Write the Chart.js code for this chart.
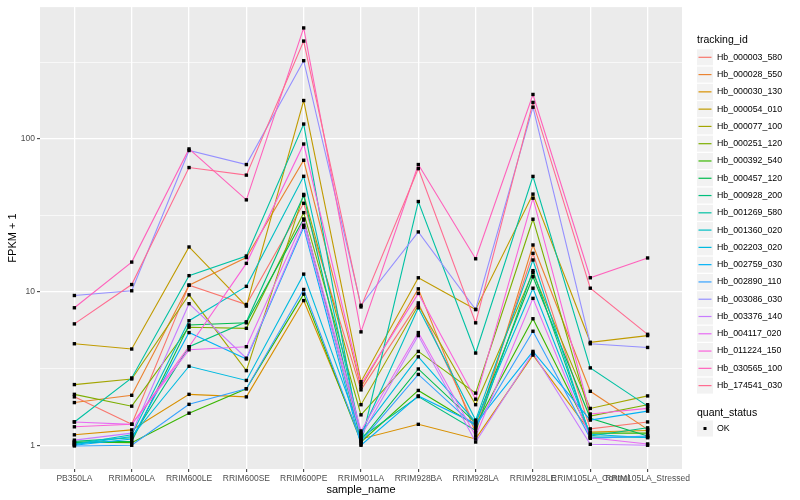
<!DOCTYPE html>
<html>
<head>
<meta charset="utf-8">
<script src="https://cdn.jsdelivr.net/npm/chart.js@4.4.1/dist/chart.umd.min.js"></script>
<style>
  body { margin: 0; background: #fff; }
  #wrap { width: 800px; height: 500px; }
</style>
</head>
<body>
<div id="wrap"><canvas id="chart" width="800" height="500"></canvas></div>
<script>
// Categories on the x axis
const samples = ['PB350LA', 'RRIM600LA', 'RRIM600LE', 'RRIM600SE', 'RRIM600PE', 'RRIM901LA',
    'RRIM928BA', 'RRIM928LA', 'RRIM928LE', 'RRIM105LA_Control', 'RRIM105LA_Stressed'];

// Y axis breaks (FPKM + 1, log scale)
const yMajor = [1, 10, 100];
const yMinor = [3.162, 31.62, 316.2];

// One array per gene
const hb_000003_580 = [2.07, 1.37, 11.1, 8.3, 38, 2.3, 8.5, 1.3, 17.9, 1.28, 1.42];
const hb_000028_550 = [1.90, 2.12, 11.1, 16.8, 72.5, 2.4, 10.5, 1.2, 20.3, 2.25, 1.27];
const hb_000030_130 = [1.17, 1.26, 2.15, 2.07, 8.8, 1.1, 1.37, 1.1, 3.88, 1.22, 1.25];
const hb_000054_010 = [4.6, 4.25, 19.7, 8.1, 178, 2.6, 12.4, 7.7, 43.6, 4.7, 5.2];
const hb_000077_100 = [2.49, 2.71, 9.6, 3.07, 43.4, 1.84, 8.2, 1.84, 13.4, 1.74, 2.1];
const hb_000251_120 = [2.15, 1.80, 5.9, 5.8, 33, 1.58, 4.1, 2.19, 29.9, 1.55, 1.84];
const hb_000392_540 = [1.05, 1.04, 1.62, 2.34, 9.7, 1.05, 2.28, 1.35, 6.7, 1.2, 1.2];
const hb_000457_120 = [1.04, 1.06, 6.1, 6.3, 30, 1.08, 3.15, 1.4, 12.6, 1.5, 1.15];
const hb_000928_200 = [1.06, 1.12, 4.4, 6.4, 42.7, 1.12, 2.08, 1.25, 13.8, 1.15, 1.3];
const hb_001269_580 = [1.42, 2.75, 12.8, 17.2, 125, 1.02, 39, 4.0, 56.9, 3.2, 1.8];
const hb_001360_020 = [1.02, 1.17, 6.5, 10.9, 57, 1.18, 7.9, 1.46, 16.2, 1.13, 1.13];
const hb_002203_020 = [1.01, 1.14, 3.28, 2.65, 13.1, 1.2, 3.78, 1.42, 10.6, 1.18, 1.12];
const hb_002759_030 = [1.0, 1.10, 5.44, 3.66, 26.5, 1.0, 2.1, 1.38, 4.1, 1.46, 1.67];
const hb_002890_110 = [0.99, 1.0, 1.85, 2.34, 10.4, 1.06, 2.9, 1.32, 5.55, 1.11, 1.15];
const hb_003086_030 = [9.5, 10.2, 84, 68, 324, 8.2, 24.7, 7.7, 161, 4.6, 4.35];
const hb_003376_140 = [1.08, 1.2, 8.4, 3.7, 27.3, 1.15, 5.2, 1.05, 4.0, 1.015, 1.0];
const hb_004117_020 = [1.42, 1.37, 4.2, 4.4, 29.5, 1.24, 5.44, 1.15, 9.1, 1.12, 1.02];
const hb_011224_150 = [1.32, 1.37, 4.4, 15.4, 92.6, 2.5, 9.8, 2.0, 41, 1.6, 1.74];
const hb_030565_100 = [7.9, 15.7, 86, 40, 530, 5.5, 68, 16.5, 195, 12.4, 16.7];
const hb_174541_030 = [6.2, 11.2, 65, 58, 435, 8.0, 64, 6.3, 173, 10.6, 5.3];

const trackingIds = ['Hb_000003_580', 'Hb_000028_550', 'Hb_000030_130', 'Hb_000054_010', 'Hb_000077_100',
    'Hb_000251_120', 'Hb_000392_540', 'Hb_000457_120', 'Hb_000928_200', 'Hb_001269_580',
    'Hb_001360_020', 'Hb_002203_020', 'Hb_002759_030', 'Hb_002890_110', 'Hb_003086_030',
    'Hb_003376_140', 'Hb_004117_020', 'Hb_011224_150', 'Hb_030565_100', 'Hb_174541_030'];

const seriesValues = [hb_000003_580, hb_000028_550, hb_000030_130, hb_000054_010, hb_000077_100,
    hb_000251_120, hb_000392_540, hb_000457_120, hb_000928_200, hb_001269_580,
    hb_001360_020, hb_002203_020, hb_002759_030, hb_002890_110, hb_003086_030,
    hb_003376_140, hb_004117_020, hb_011224_150, hb_030565_100, hb_174541_030];

// ggplot default hue palette for 20 levels
const lineColors = ['#F8766D', '#EA8331', '#D89000', '#C09B00', '#A3A500', '#7CAE00', '#39B600',
    '#00BB4E', '#00BF7D', '#00C1A3', '#00BFC4', '#00BAE0', '#00B0F6', '#35A2FF', '#9590FF',
    '#C77CFF', '#E76BF3', '#FA62DB', '#FF62BC', '#FF6C91'];

const FONT = '"Liberation Sans", Arial, sans-serif';

// Line datasets: later genes drawn on top (lower order = on top)
const datasets = seriesValues.map((vals, i) => ({
    label: trackingIds[i],
    data: vals.map((v, j) => ({ x: j, y: v })),
    borderColor: lineColors[i],
    backgroundColor: lineColors[i],
    borderWidth: 1.1,
    pointRadius: 0,
    tension: 0,
    order: 20 - i
}));

// All points in one black layer on top
datasets.push({
    type: 'scatter',
    label: 'OK',
    data: seriesValues.flatMap(vals => vals.map((v, j) => ({ x: j, y: v }))),
    backgroundColor: '#000',
    borderColor: '#000',
    borderWidth: 0,
    pointStyle: 'rect',
    pointRadius: 2.4,
    order: 0
});

// Grey panel + white page
const panelPlugin = {
    id: 'panelBackground',
    beforeDraw(chart) {
        const ctx = chart.ctx;
        const a = chart.chartArea;
        ctx.save();
        ctx.fillStyle = '#ffffff';
        ctx.fillRect(0, 0, chart.width, chart.height);
        ctx.fillStyle = '#EBEBEB';
        ctx.fillRect(a.left, a.top, a.right - a.left, a.bottom - a.top);
        ctx.restore();
    }
};

// ggplot style legend on the right
const legendPlugin = {
    id: 'ggLegend',
    afterDraw(chart) {
        const ctx = chart.ctx;
        const x0 = 697;
        ctx.save();
        ctx.textBaseline = 'middle';
        ctx.textAlign = 'left';
        ctx.fillStyle = '#000';
        ctx.font = '10.5px ' + FONT;
        ctx.fillText('tracking_id', x0, 40.5);

        trackingIds.forEach((id, i) => {
            const cy = 57.3 + i * 17.28;
            ctx.fillStyle = '#F2F2F2';
            ctx.fillRect(x0, cy - 8, 16, 16);
            ctx.strokeStyle = lineColors[i];
            ctx.lineWidth = 1.2;
            ctx.beginPath();
            ctx.moveTo(x0 + 1.5, cy);
            ctx.lineTo(x0 + 14.5, cy);
            ctx.stroke();
            ctx.fillStyle = '#000';
            ctx.font = '8.8px ' + FONT;
            ctx.fillText(id, 717, cy);
        });

        ctx.font = '10.5px ' + FONT;
        ctx.fillText('quant_status', x0, 412.7);
        const cy = 428.5;
        ctx.fillStyle = '#F2F2F2';
        ctx.fillRect(x0, cy - 8, 16, 16);
        ctx.fillStyle = '#000';
        ctx.fillRect(x0 + 6.5, cy - 1.5, 3, 3);
        ctx.font = '8.8px ' + FONT;
        ctx.fillText('OK', 717, cy);
        ctx.restore();
    }
};

new Chart(document.getElementById('chart'), {
    type: 'line',
    data: { datasets: datasets },
    plugins: [panelPlugin, legendPlugin],
    options: {
        responsive: false,
        animation: false,
        devicePixelRatio: 1,
        layout: { padding: { top: 5, right: 118, left: 0, bottom: 0 } },
        plugins: {
            legend: { display: false },
            tooltip: { enabled: false }
        },
        scales: {
            x: {
                type: 'linear',
                min: -0.6,
                max: samples.length - 0.4,
                afterBuildTicks: scale => {
                    scale.ticks = samples.map((s, i) => ({ value: i }));
                },
                afterFit: scale => { scale.height = 31; },
                border: { display: false },
                grid: {
                    color: '#ffffff',
                    lineWidth: 1.3,
                    tickColor: '#333333',
                    tickLength: 3,
                    tickWidth: 1
                },
                ticks: {
                    autoSkip: false,
                    maxRotation: 0,
                    minRotation: 0,
                    padding: 2,
                    color: '#4D4D4D',
                    font: { family: FONT, size: 8.5 },
                    callback: value => samples[value]
                },
                title: {
                    display: true,
                    text: 'sample_name',
                    color: '#000',
                    font: { family: FONT, size: 11 },
                    padding: { top: 0, bottom: 3 }
                }
            },
            y: {
                type: 'logarithmic',
                min: 0.724,
                max: 725,
                afterBuildTicks: scale => {
                    scale.ticks = yMajor.concat(yMinor).sort((a, b) => a - b).map(v => ({ value: v }));
                },
                afterFit: scale => { scale.width = 40; },
                border: { display: false },
                grid: {
                    color: '#ffffff',
                    lineWidth: ctx => (ctx.tick && yMajor.includes(ctx.tick.value)) ? 1.3 : 0.65,
                    tickColor: ctx => (ctx.tick && yMajor.includes(ctx.tick.value)) ? '#333333' : 'rgba(0,0,0,0)',
                    tickLength: 3,
                    tickWidth: 1
                },
                ticks: {
                    autoSkip: false,
                    padding: 2,
                    color: '#4D4D4D',
                    font: { family: FONT, size: 8.5 },
                    callback: value => yMajor.includes(value) ? String(value) : ''
                },
                title: {
                    display: true,
                    text: 'FPKM + 1',
                    color: '#000',
                    font: { family: FONT, size: 11 },
                    padding: { top: 6, bottom: 0 }
                }
            }
        }
    }
});
</script>
</body>
</html>
